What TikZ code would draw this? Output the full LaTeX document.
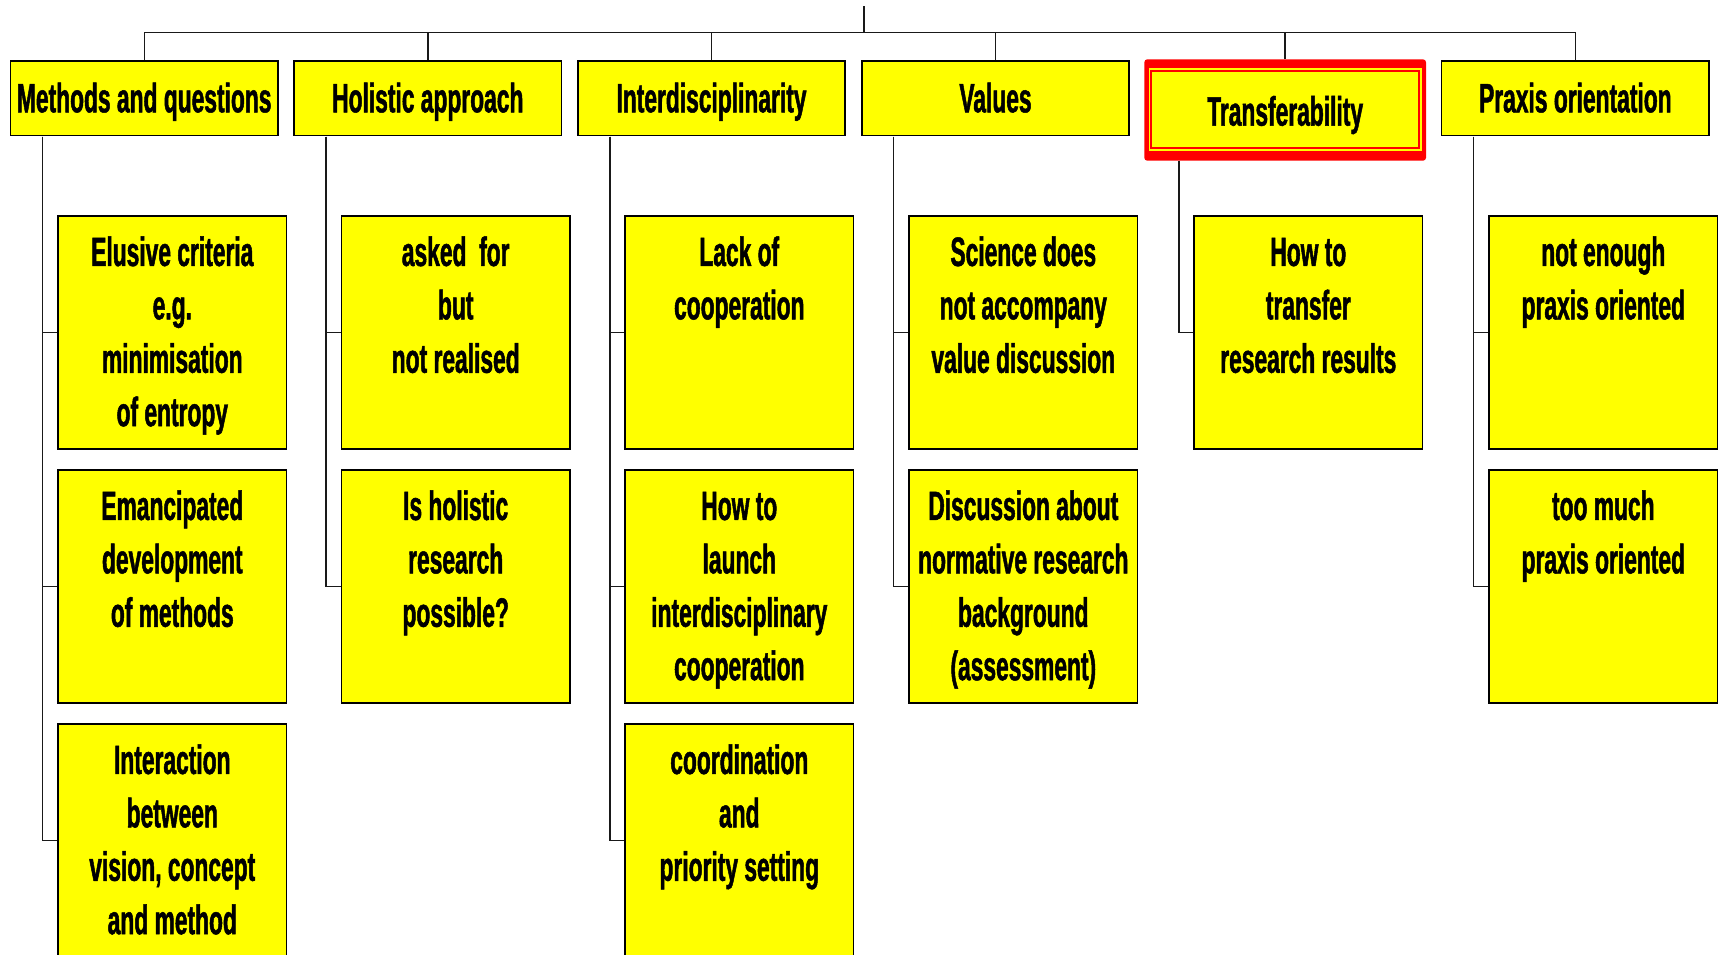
\documentclass[tikz,border=0pt]{standalone}
\usepackage{fontspec}
\setmainfont{Liberation Sans}[FakeStretch=0.556, FakeBold=1.2]
\newcommand\bigfont{\fontsize{41}{53.4}\selectfont\bfseries}
\definecolor{yel}{RGB}{255,255,0}
\definecolor{rd}{RGB}{255,0,0}
\tikzset{
  hbox/.style={draw=black, line width=1.6pt, fill=yel, minimum width=267.5pt,
    minimum height=74.5pt, inner sep=0pt, text height=28.2pt, text depth=0pt, font=\bigfont},
  cbox/.style={draw=black, line width=1.6pt, fill=yel, minimum width=228.5pt,
    minimum height=233.5pt, inner sep=0pt},
  ctext/.style={anchor=base, inner sep=0pt, font=\bigfont},
  conn/.style={draw=black!90, line width=1.4pt},
}
\begin{document}
\begin{tikzpicture}[x=1pt,y=1pt]
\useasboundingbox (0,0) rectangle (1720,-954);
% top boxes
\node[hbox] (h1) at (144.2,-98.2) {Methods and questions};
\node[hbox] (h2) at (427.8,-98.2) {Holistic approach};
\node[hbox] (h3) at (711.5,-98.2) {Interdisciplinarity};
\node[hbox] (h4) at (995.5,-98.2) {Values};
\node[fill=rd, rounded corners=3pt, minimum width=281.7pt, minimum height=101.4pt, inner sep=0pt] (h5) at (1285.15,-110) {};
\fill[yel] ([shift={(5pt,-9pt)}]h5.north west) rectangle ([shift={(-4.7pt,10pt)}]h5.south east);
\draw[rd, line width=1.8pt] ([shift={(6.85pt,-12.2pt)}]h5.north west) rectangle ([shift={(-6.85pt,13pt)}]h5.south east);
\node[font=\bigfont, inner sep=0pt, text height=28.2pt, text depth=0pt, yshift=-1.5pt] (h5t) at (h5.center) {Transferability};
\node[hbox] (h6) at (1575.35,-98.2) {Praxis orientation};

% child boxes
\node[cbox] (c11) at (172.3,-332.5) {};
\node[cbox] (c12) at (172.3,-586.5) {};
\node[cbox] (c13) at (172.3,-840.5) {};
\node[cbox] (c21) at (455.7,-332.5) {};
\node[cbox] (c22) at (455.7,-586.5) {};
\node[cbox] (c31) at (739.3,-332.5) {};
\node[cbox] (c32) at (739.3,-586.5) {};
\node[cbox] (c33) at (739.3,-840.5) {};
\node[cbox] (c41) at (1023.3,-332.5) {};
\node[cbox] (c42) at (1023.3,-586.5) {};
\node[cbox] (c51) at (1308.3,-332.5) {};
\node[cbox] (c61) at (1603.3,-332.5) {};
\node[cbox] (c62) at (1603.3,-586.5) {};

% child texts
\node[ctext] (t11) at ([yshift=-51pt]c11.north) {\parbox[t]{228pt}{\centering Elusive criteria\\e.g.\\minimisation\\of entropy}};
\node[ctext] (t12) at ([yshift=-51pt]c12.north) {\parbox[t]{228pt}{\centering Emancipated\\development\\of methods}};
\node[ctext] (t13) at ([yshift=-51pt]c13.north) {\parbox[t]{228pt}{\centering Interaction\\between\\vision, concept\\and method}};
\node[ctext] (t21) at ([yshift=-51pt]c21.north) {\parbox[t]{228pt}{\centering asked\ \ for\\but\\not realised}};
\node[ctext] (t22) at ([yshift=-51pt]c22.north) {\parbox[t]{228pt}{\centering Is holistic\\research\\possible?}};
\node[ctext] (t31) at ([yshift=-51pt]c31.north) {\parbox[t]{228pt}{\centering Lack of\\cooperation}};
\node[ctext] (t32) at ([yshift=-51pt]c32.north) {\parbox[t]{228pt}{\centering How to\\launch\\interdisciplinary\\cooperation}};
\node[ctext] (t33) at ([yshift=-51pt]c33.north) {\parbox[t]{228pt}{\centering coordination\\and\\priority setting}};
\node[ctext] (t41) at ([yshift=-51pt]c41.north) {\parbox[t]{228pt}{\centering Science does\\not accompany\\value discussion}};
\node[ctext] (t42) at ([yshift=-51pt]c42.north) {\parbox[t]{228pt}{\centering Discussion about\\normative research\\background\\(assessment)}};
\node[ctext] (t51) at ([yshift=-51pt]c51.north) {\parbox[t]{228pt}{\centering How to\\transfer\\research results}};
\node[ctext] (t61) at ([yshift=-51pt]c61.north) {\parbox[t]{228pt}{\centering not enough\\praxis oriented}};
\node[ctext] (t62) at ([yshift=-51pt]c62.north) {\parbox[t]{228pt}{\centering too much\\praxis oriented}};

% top bus
\coordinate (root) at (864,-6);
\coordinate (bus) at (864,-32.3);
\draw[conn] (root) -- (bus);
\draw[conn] (h1.north) -- (h1.north |- bus) -- (h6.north |- bus) -- (h6.north);
\foreach \i in {2,3,4,5} \draw[conn] (h\i.north) -- (h\i.north |- bus);

% trunks
\coordinate (k1) at (42.7,-136.5);
\coordinate (k2) at (326,-136.5);
\coordinate (k3) at (610,-136.5);
\coordinate (k4) at (893.7,-136.5);
\coordinate (k5) at (1179,-160.7);
\coordinate (k6) at (1473.7,-136.5);
\draw[conn] (k1) |- (c11.west);
\draw[conn] (k1) |- (c12.west);
\draw[conn] (k1) |- (c13.west);
\draw[conn] (k2) |- (c21.west);
\draw[conn] (k2) |- (c22.west);
\draw[conn] (k3) |- (c31.west);
\draw[conn] (k3) |- (c32.west);
\draw[conn] (k3) |- (c33.west);
\draw[conn] (k4) |- (c41.west);
\draw[conn] (k4) |- (c42.west);
\draw[conn] (k5) |- (c51.west);
\draw[conn] (k6) |- (c61.west);
\draw[conn] (k6) |- (c62.west);
\end{tikzpicture}
\end{document}
